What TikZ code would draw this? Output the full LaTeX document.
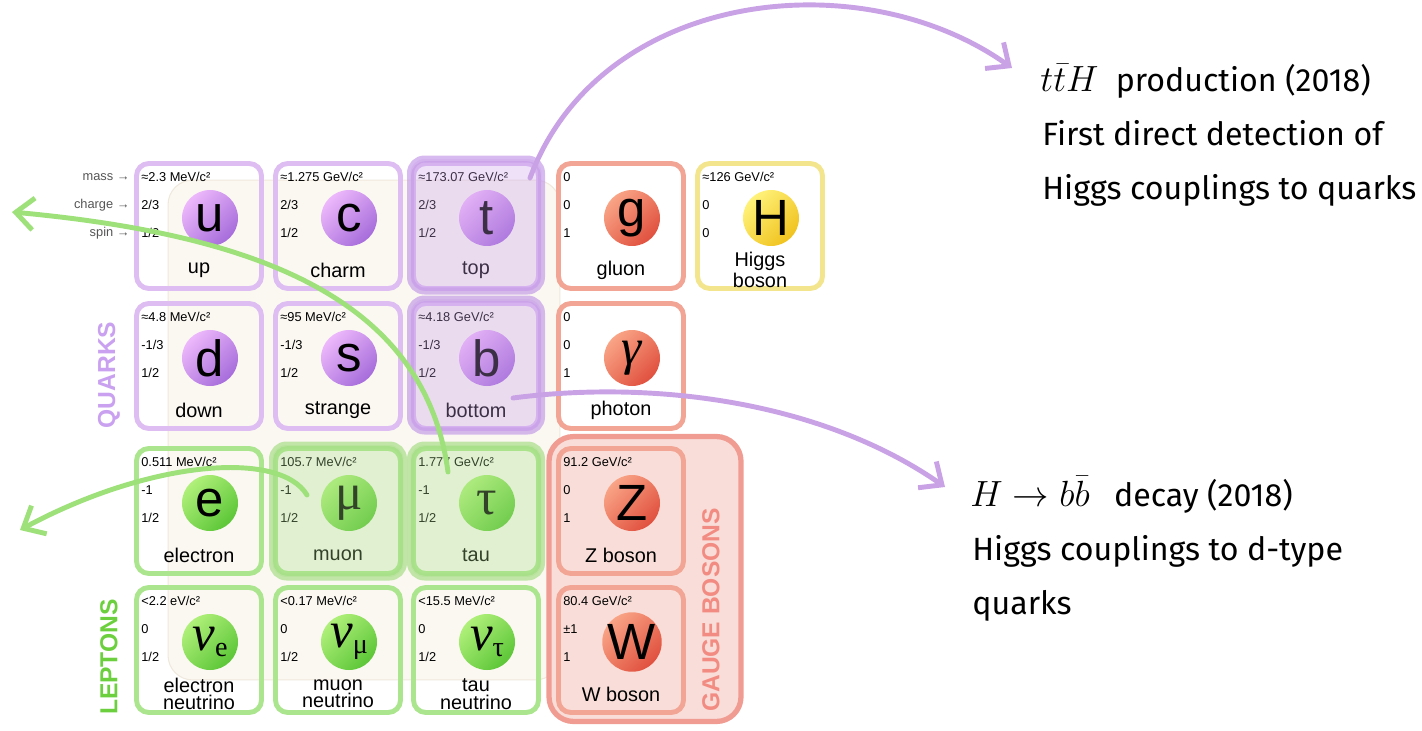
\documentclass[tikz,border=0pt]{standalone}
\usepackage{fontspec}
\setmainfont{Liberation Sans}
\newfontfamily\fira{Fira Sans}
\newfontfamily\grk{Liberation Serif}
\usetikzlibrary{arrows.meta}
\definecolor{qborder}{HTML}{DDBDF2}
\definecolor{qtop}{HTML}{EDB8FB}
\definecolor{qbot}{HTML}{A66CDB}
\definecolor{qhl}{HTML}{C69DE8}
\definecolor{lborder}{HTML}{ABE68F}
\definecolor{ltop}{HTML}{B0F07A}
\definecolor{lbot}{HTML}{5CC637}
\definecolor{lhl}{HTML}{A8DE88}
\definecolor{bborder}{HTML}{F2A595}
\definecolor{btop}{HTML}{F9A486}
\definecolor{bbot}{HTML}{E0503E}
\definecolor{hborder}{HTML}{F3E58E}
\definecolor{htop}{HTML}{FFF27A}
\definecolor{hbot}{HTML}{F0C21E}
\definecolor{gaugefill}{HTML}{F9DDD8}
\definecolor{gaugeborder}{HTML}{F09C92}
\definecolor{arrowpurple}{HTML}{C9A2E6}
\definecolor{arrowgreen}{HTML}{9EE07A}
\definecolor{backfill}{HTML}{FBF8F2}
\definecolor{backline}{HTML}{EFE8DD}
\definecolor{labelgray}{HTML}{555555}
\definecolor{quarkcol}{HTML}{C9A1F0}
\definecolor{leptoncol}{HTML}{6CD03E}
\definecolor{gaugecol}{HTML}{F28C82}
\newcommand\pcell[9]{%
  \node[cellbox,draw=#4border] (#1) at (#2+65,#3+65) {};
  \node[valtext] at (#2+7,#3+16) {#5};
  \node[valtext] at (#2+7,#3+44) {#6};
  \node[valtext] at (#2+7,#3+72) {#7};
  \node[ball,top color=#4top,bottom color=#4bot,shading angle=45] (#1-sym) at (#2+76,#3+57) {#8};
  \node[nametext] (#1-name) at (#2+65,#3+109) {#9};
}
\newcommand\nusym[1]{{\grk\itshape ν}\raisebox{-0.12em}{\grk\fontsize{16}{16}\selectfont #1}}
\begin{document}
\begin{tikzpicture}[x=0.02cm,y=-0.02cm,
  cellbox/.style={rectangle,rounded corners=7pt,line width=2.8pt,minimum width=2.5cm,minimum height=2.5cm,inner sep=0pt},
  valtext/.style={anchor=west,inner sep=0pt,font=\fontsize{7.3}{8}\selectfont},
  ball/.style={circle,minimum size=1.12cm,inner sep=0pt,font=\fontsize{29}{29}\selectfont},
  nametext/.style={align=center,inner sep=0pt,font=\fontsize{11.3}{9.9}\selectfont},
  sidelabel/.style={anchor=east,inner sep=0pt,text=labelgray,font=\fontsize{7.3}{8}\selectfont},
  grouplabel/.style={rotate=90,inner sep=0pt,font=\bfseries\fontsize{14}{14}\selectfont},
  hlbox/.style={rectangle,rounded corners=8pt,line width=4pt,minimum width=2.62cm,minimum height=2.64cm,fill opacity=0.3,draw opacity=0.7},
  parrow/.style={draw=arrowpurple,line width=2.8pt,line cap=round,-{Straight Barb[length=3.6mm,width=6.4mm]}},
  garrow/.style={draw=arrowgreen,line width=2.8pt,line cap=round,-{Straight Barb[length=3.6mm,width=6.4mm]}},
  rtext/.style={anchor=base west,inner sep=0pt,font=\fira\fontsize{18.3}{21}\selectfont}
]
\useasboundingbox (0,0) rectangle (1422,730);
% backdrop
\node[rectangle,rounded corners=14pt,fill=backfill,draw=backline,line width=0.6pt,minimum width=7.84cm,minimum height=10cm] (backdrop) at (364,430) {};
% gauge boson group
\node[rectangle,rounded corners=14pt,fill=gaugefill,draw=gaugeborder,line width=3pt,minimum width=3.84cm,minimum height=5.7cm] (gauge) at (645,579) {};
% row 1
\pcell{up}{134}{161}{q}{≈2.3 MeV/c²}{2/3}{1/2}{u}{up}
\pcell{charm}{273}{161}{q}{≈1.275 GeV/c²}{2/3}{1/2}{c}{charm}
\pcell{top}{411}{161}{q}{≈173.07 GeV/c²}{2/3}{1/2}{t}{top}
\pcell{gluon}{556}{161}{b}{0}{0}{1}{g}{gluon}
\pcell{higgs}{695}{161}{h}{≈126 GeV/c²}{0}{0}{H}{Higgs\\boson}
% row 2
\pcell{down}{134}{301}{q}{≈4.8 MeV/c²}{-1/3}{1/2}{d}{down}
\pcell{strange}{273}{301}{q}{≈95 MeV/c²}{-1/3}{1/2}{s}{strange}
\pcell{bottom}{411}{301}{q}{≈4.18 GeV/c²}{-1/3}{1/2}{b}{bottom}
\pcell{photon}{556}{301}{b}{0}{0}{1}{\grk\itshape γ}{photon}
% row 3
\pcell{electron}{134}{446}{l}{0.511 MeV/c²}{-1}{1/2}{e}{electron}
\pcell{muon}{273}{446}{l}{105.7 MeV/c²}{-1}{1/2}{\grk μ}{muon}
\pcell{tau}{411}{446}{l}{1.777 GeV/c²}{-1}{1/2}{\grk τ}{tau}
\pcell{zboson}{556}{446}{b}{91.2 GeV/c²}{0}{1}{Z}{Z boson}
% row 4
\pcell{nue}{134}{585}{l}{<2.2 eV/c²}{0}{1/2}{\nusym{e}}{electron\\neutrino}
\pcell{numu}{273}{585}{l}{<0.17 MeV/c²}{0}{1/2}{\nusym{μ}}{muon\\neutrino}
\pcell{nutau}{411}{585}{l}{<15.5 MeV/c²}{0}{1/2}{\nusym{τ}}{tau\\neutrino}
\pcell{wboson}{556}{585}{b}{80.4 GeV/c²}{±1}{1}{W}{W boson}
% highlights
\node[hlbox,fill=qhl,draw=qhl] (top-hl) at (476,225) {};
\node[hlbox,fill=qhl,draw=qhl] (bottom-hl) at (476,365) {};
\node[hlbox,fill=lhl,draw=lhl] (muon-hl) at (338,511) {};
\node[hlbox,fill=lhl,draw=lhl] (tau-hl) at (476,511) {};
% side labels
\node[sidelabel] (lmass) at (130,177) {mass →};
\node[sidelabel] (lcharge) at (130,205) {charge →};
\node[sidelabel] (lspin) at (130,233) {spin →};
\node[grouplabel,text=quarkcol] (quarks) at (109,375) {QUARKS};
\node[grouplabel,text=leptoncol] (leptons) at (109,657) {LEPTONS};
\node[grouplabel,text=gaugecol] (gaugelbl) at (711,610) {GAUGE BOSONS};
% arrows
\coordinate (tS) at (530,178);
\coordinate (tE) at (1012,68);
\coordinate (bS) at (513,398);
\coordinate (bE) at (945,487);
\coordinate (tauS) at (448,472);
\coordinate (tauE) at (12,212);
\coordinate (muS) at (307,495);
\coordinate (muE) at (20,530);
\draw[parrow] (tS) .. controls (600,-10) and (860,-40) .. (tE);
\draw[parrow] (bS) .. controls (650,380) and (820,400) .. (bE);
\draw[garrow] (tauS) .. controls (425,300) and (260,235) .. (tauE);
\draw[garrow] (muS) .. controls (280,450) and (150,460) .. (muE);
% right texts
\node[rtext] (tth1) at (1040,91) {{\fontsize{21}{21}\selectfont$t\bar{t}H$}\hspace{5pt} production (2018)};
\node[rtext] (tth2) at (1042,145) {First direct detection of};
\node[rtext] (tth3) at (1042,199) {Higgs couplings to quarks};
\node[rtext] (hbb1) at (970,506) {{\fontsize{21}{21}\selectfont$H\rightarrow b\bar{b}$}\hspace{9pt} decay (2018)};
\node[rtext] (hbb2) at (972,560) {Higgs couplings to d-type};
\node[rtext] (hbb3) at (972,614) {quarks};
\end{tikzpicture}
\end{document}
